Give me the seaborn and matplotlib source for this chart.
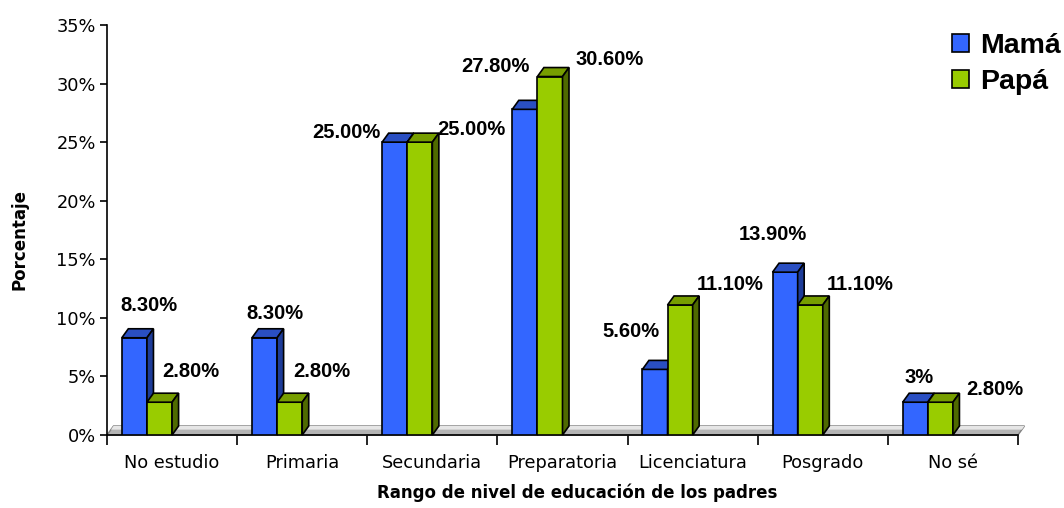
import numpy as np
import pandas as pd
import seaborn as sns
import matplotlib.pyplot as plt
from matplotlib.patches import Polygon
from matplotlib.ticker import FuncFormatter

niveles = ["No estudio", "Primaria", "Secundaria", "Preparatoria",
           "Licenciatura", "Posgrado", "No sé"]
mama = [8.3, 8.3, 25.0, 27.8, 5.6, 13.9, 2.8]
papa = [2.8, 2.8, 25.0, 30.6, 11.1, 11.1, 2.8]
etiquetas_mama = ["8.30%", "8.30%", "25.00%", "27.80%", "5.60%", "13.90%", "3%"]
etiquetas_papa = ["2.80%", "2.80%", "25.00%", "30.60%", "11.10%", "11.10%", "2.80%"]

# label offsets in pixels from the top of the front face (Excel placement)
off_mama = [(15, 32), (10, 24), (-48, 10), (-29, 43), (-24, 38), (-12, 38), (4, 25)]
off_papa = [(31, 31), (32, 31), (52, 13), (60, 17), (50, 20), (50, 20), (54, 13)]

df = pd.DataFrame({
    "nivel": niveles * 2,
    "pct": mama + papa,
    "padre": ["Mamá"] * len(niveles) + ["Papá"] * len(niveles),
})

sns.set_style("white")
plt.rcParams['font.family'] = ['DejaVu Sans']
plt.rcParams['text.color'] = 'black'
plt.rcParams['axes.labelcolor'] = 'black'
plt.rcParams['xtick.color'] = 'black'
plt.rcParams['ytick.color'] = 'black'
plt.rcParams['legend.labelcolor'] = 'black'

fig = plt.figure(figsize=(10.64, 5.08), dpi=100)
ax = fig.add_axes([107 / 1064, 73 / 508, 911 / 1064, 410 / 508])

front = ["#3366FF", "#99CC00"]
top = ["#2A4FC2", "#779E00"]
side = ["#1E3C99", "#4F6A00"]

sns.barplot(data=df, x="nivel", y="pct", hue="padre", palette=front,
            width=0.386, saturation=1, edgecolor="black", linewidth=1.2,
            ax=ax)

ax.set_xlim(-0.5, 6.5)
ax.set_ylim(0, 35)

# depth of the fake 3d effect, in data units
dx = 6.5 / 130.0
dy = 9.0 / (410 / 35)

floor = Polygon([(-0.5, 0), (6.5, 0), (6.5 + dx, dy), (-0.5 + dx, dy)],
                closed=True, facecolor="#B4B4B4", edgecolor="#808080",
                linewidth=1, zorder=1, clip_on=False)
ax.add_patch(floor)
ax.add_patch(Polygon([(-0.5 + dx * 0.6, dy * 0.6), (6.5 + dx * 0.6, dy * 0.6),
                      (6.5 + dx, dy), (-0.5 + dx, dy)],
                     closed=True, facecolor="#E6E6E6", edgecolor="none",
                     zorder=1.1, clip_on=False))

lbl_font = dict(family="Liberation Sans", weight="bold", size=14.5, color="black")
for k, cont in enumerate(ax.containers):
    etiquetas = etiquetas_mama if k == 0 else etiquetas_papa
    offs = off_mama if k == 0 else off_papa
    for i, bar in enumerate(cont.patches):
        bar.set_x(bar.get_x() - 0.193)
        bar.set_zorder(3 + k)
        x0 = bar.get_x()
        x1 = x0 + bar.get_width()
        h = bar.get_height()
        ax.add_patch(Polygon([(x0, h), (x1, h), (x1 + dx, h + dy), (x0 + dx, h + dy)],
                             closed=True, facecolor=top[k], edgecolor="black",
                             linewidth=1.2, zorder=3 + k, clip_on=False))
        ax.add_patch(Polygon([(x1, 0), (x1 + dx, dy), (x1 + dx, h + dy), (x1, h)],
                             closed=True, facecolor=side[k], edgecolor="black",
                             linewidth=1.2, zorder=3 + k, clip_on=False))
        ax.annotate(etiquetas[i], xy=((x0 + x1) / 2, h), xytext=offs[i],
                    textcoords="offset pixels", ha="center", va="center",
                    **lbl_font, zorder=10)

# axes
for s in ["top", "right"]:
    ax.spines[s].set_visible(False)
for s in ["left", "bottom"]:
    ax.spines[s].set_color("black")
    ax.spines[s].set_linewidth(1.2)
ax.spines["bottom"].set_zorder(2)

ax.set_yticks(range(0, 36, 5))
ax.yaxis.set_major_formatter(FuncFormatter(lambda v, p: f"{v:.0f}%"))
ax.tick_params(axis="y", direction="out", length=5, width=1.2, color="black",
               labelsize=12.8, pad=3, left=True)

ax.set_xticks(np.arange(-0.5, 7, 1.0))
ax.set_xticklabels([])
ax.set_xticks(range(len(niveles)), minor=True)
ax.set_xticklabels(niveles, minor=True)
ax.tick_params(axis="x", which="major", direction="out", length=7, width=1.2,
               color="black", bottom=True)
ax.tick_params(axis="x", which="minor", length=0, labelsize=12.8, pad=14)

ax.set_xlabel("Rango de nivel de educación de los padres", fontsize=12,
              fontweight="bold", va="center")
ax.xaxis.set_label_coords(0.516, -0.141)
ax.set_ylabel("Porcentaje", fontsize=12, fontweight="bold", va="center")
ax.yaxis.set_label_coords(-0.0955, 0.476)

handles, labels = ax.get_legend_handles_labels()
leg = ax.legend(handles, labels, loc="center left",
                bbox_to_anchor=(952 / 1064, 1 - 64 / 508),
                bbox_transform=fig.transFigure, frameon=False,
                borderpad=0, borderaxespad=0, handlelength=0.58,
                handleheight=0.58, handletextpad=0.42, labelspacing=0.36,
                prop=dict(family="Liberation Sans", weight="bold", size=20.5))
for hnd in leg.legend_handles:
    hnd.set_edgecolor("black")
    hnd.set_linewidth(1.2)

fig.savefig("out.png", dpi=100)
plt.close(fig)
